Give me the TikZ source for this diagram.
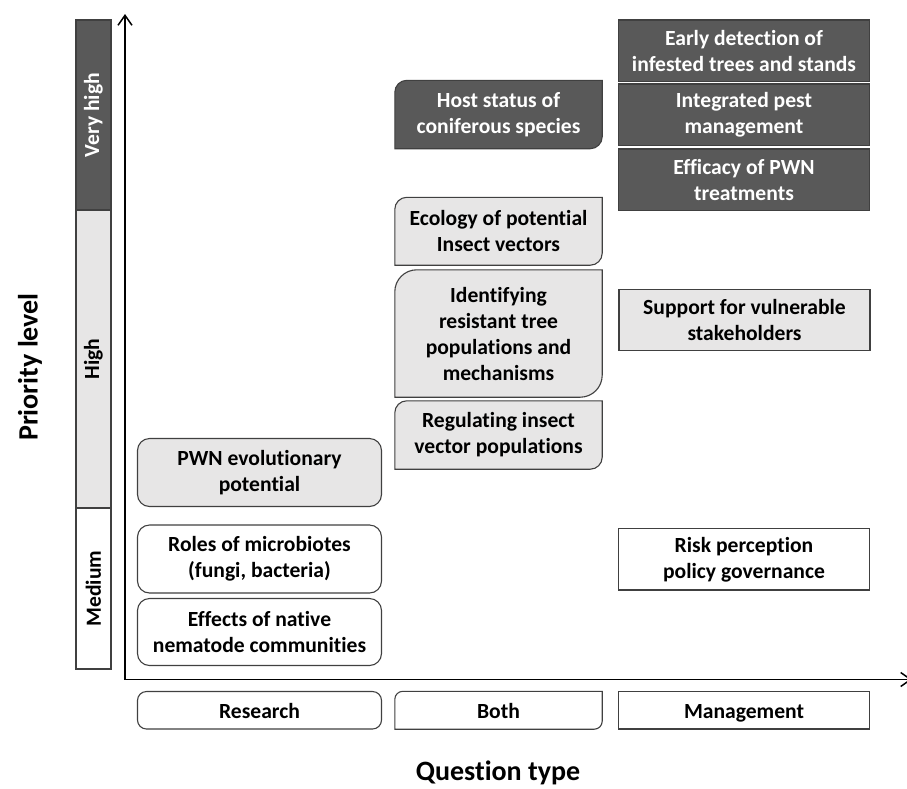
\documentclass[tikz,border=0pt]{standalone}
\usepackage{fontspec}
\setmainfont{Carlito}[Ligatures=NoCommon]
\usetikzlibrary{arrows.meta,backgrounds}
\definecolor{darkbox}{HTML}{595959}
\definecolor{lightbox}{HTML}{E7E6E6}
\definecolor{edgec}{HTML}{404040}
\newcommand\diagpath[3]{%
  \draw[#3] ([yshift=-#2]#1.north west) arc[start angle=180,end angle=90,radius=#2]
    -- (#1.north east) -- ([yshift=#2]#1.south east)
    arc[start angle=0,end angle=-90,radius=#2] -- (#1.south west) -- cycle;}
\begin{document}
\begin{tikzpicture}[x=1pt,y=-1pt,
  lbl/.style={font=\bfseries\fontsize{21.6}{26}\selectfont, align=center, inner sep=0pt, text=black},
  frame/.style={draw=edgec, line width=1.1pt},
  sqbox/.style={lbl, frame},
  rbox/.style={lbl, frame, rounded corners=12pt},
  dbox/.style={lbl, draw=none},
  darkf/.style={fill=darkbox, text=white},
  lightf/.style={fill=lightbox},
  whitef/.style={fill=white},
  catlbl/.style={text height=17pt, text depth=1pt},
  axis/.style={line width=1.5pt, -{Straight Barb[length=10pt,width=14pt,line width=1.5pt]}},
  title/.style={font=\bfseries\fontsize{28}{32}\selectfont, inner sep=0pt}
]
\useasboundingbox (0,0) rectangle (907,788);

% priority bar
\node[sqbox, darkf, minimum width=35pt, minimum height=190pt] (vh) at (93.5,115) {\rotatebox{90}{Very high}};
\node[sqbox, lightf, minimum width=35pt, minimum height=298pt] (hi) at (93.5,359) {\rotatebox{90}{High}};
\node[sqbox, whitef, minimum width=35pt, minimum height=161pt] (me) at (93.5,588.5) {\rotatebox{90}{Medium}};

% axes
\coordinate (O) at (125,679.5);
\coordinate (ytop) at (125,14);
\coordinate (xend) at (912,679.5);
\draw[axis] (O) -- (ytop);
\draw[axis] (O) -- (xend);

% Research column
\node[rbox, lightf, minimum width=244pt, minimum height=68pt] (pwn) at (259.5,472.5) {PWN evolutionary\\potential};
\node[rbox, whitef, minimum width=244pt, minimum height=68pt] (roles) at (259.5,559) {Roles of microbiotes\\(fungi, bacteria)};
\node[rbox, whitef, minimum width=244pt, minimum height=67pt] (eff) at (259.5,632) {Effects of native\\nematode communities};

% Both column
\node[dbox, text=white, minimum width=207pt, minimum height=68pt] (host) at (498.5,114.5) {Host status of\\coniferous species};
\node[dbox, minimum width=207pt, minimum height=67.5pt] (eco) at (498.5,231.25) {Ecology of potential\\Insect vectors};
\node[dbox, minimum width=207pt, minimum height=127pt] (ident) at (498.5,333.5) {Identifying\\resistant tree\\populations and\\mechanisms};
\node[dbox, minimum width=207pt, minimum height=68pt] (reg) at (498.5,435) {Regulating insect\\vector populations};

% Management column
\node[sqbox, darkf, minimum width=251pt, minimum height=61.5pt] (early) at (744,50.75) {Early detection of\\infested trees and stands};
\node[sqbox, darkf, minimum width=251pt, minimum height=61.5pt] (ipm) at (744,114.75) {Integrated pest\\management};
\node[sqbox, darkf, minimum width=251pt, minimum height=61.5pt] (effic) at (744,179.75) {Efficacy of PWN\\treatments};
\node[sqbox, lightf, minimum width=251pt, minimum height=61pt] (supp) at (744.5,320) {Support for vulnerable\\stakeholders};
\node[sqbox, whitef, minimum width=251pt, minimum height=61.5pt] (risk) at (744,559.25) {Risk perception\\policy governance};

% bottom category labels
\node[lbl, catlbl, frame, whitef, rounded corners=9pt, minimum width=244pt, minimum height=37.5pt] (cres) at (259.5,710.25) {Research};
\node[dbox, catlbl, minimum width=207pt, minimum height=37.5pt] (cboth) at (498.5,710.25) {Both};
\node[sqbox, catlbl, whitef, minimum width=251pt, minimum height=37.5pt] (cman) at (744,710.25) {Management};

\begin{pgfonlayer}{background}
  \diagpath{host}{12pt}{frame, fill=darkbox}
  \diagpath{eco}{12pt}{frame, fill=lightbox}
  \diagpath{ident}{22pt}{frame, fill=lightbox}
  \diagpath{reg}{12pt}{frame, fill=lightbox}
  \diagpath{cboth}{8pt}{frame, fill=white}
\end{pgfonlayer}

% axis titles
\node[title, rotate=90] (ylab) at (30,367) {Priority level};
\node[title] (xlab) at (498,773) {Question type};
\end{tikzpicture}
\end{document}
